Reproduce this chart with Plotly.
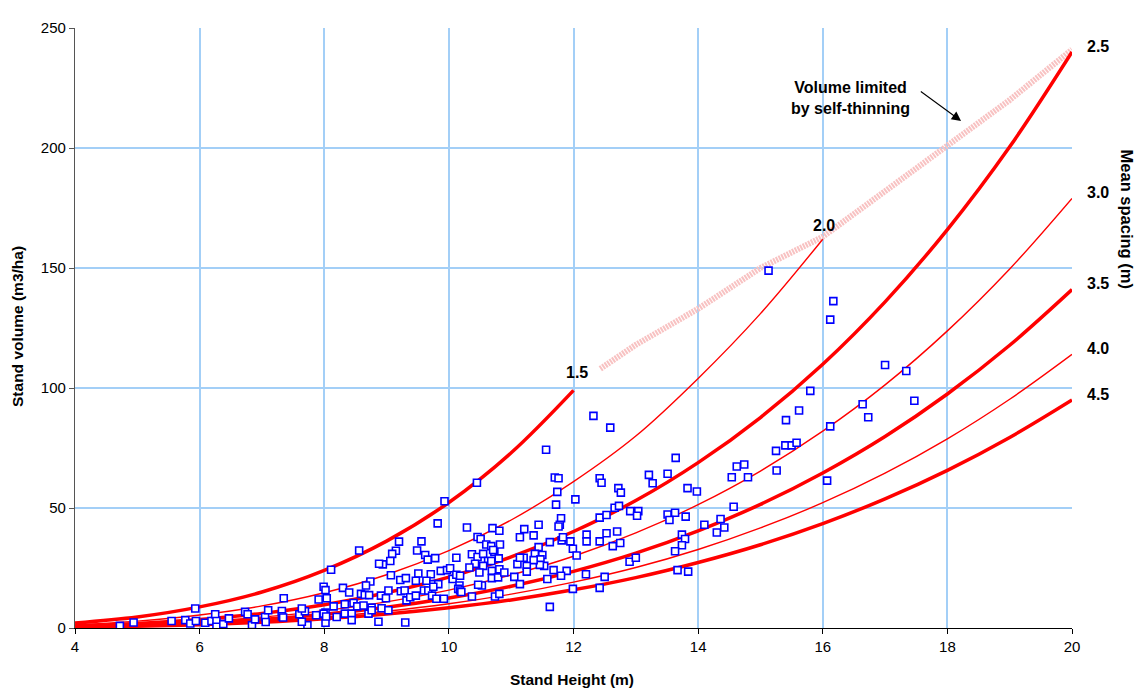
import plotly.graph_objects as go

# ---------------- data ----------------
H = [4, 5, 6, 7, 8, 9, 10, 11, 12, 13, 14, 15, 16, 17, 18, 19, 20]

v15 = [2.1, 4.6, 8.8, 15.0, 24.0, 36.2, 52.3, 73.0, 99.0]
v20 = [1.3, 2.85, 5.4, 9.2, 14.7, 22.2, 32.2, 45.0, 61.0, 80.0, 104.0, 131.0, 162.0]
v25 = [0.86, 1.88, 3.55, 6.09, 9.72, 14.7, 21.2, 29.6, 40.2, 53.1, 68.9, 87.7, 109.9, 135.9, 166.0, 200.5, 240.0]
v30 = [0.64, 1.40, 2.65, 4.54, 7.25, 10.9, 15.8, 22.1, 29.9, 39.6, 51.4, 65.4, 82.0, 101.3, 123.8, 149.6, 179.0]
v35 = [0.50, 1.10, 2.08, 3.58, 5.71, 8.62, 12.5, 17.4, 23.6, 31.2, 40.5, 51.5, 64.6, 79.8, 97.5, 117.8, 141.0]
v40 = [0.41, 0.89, 1.68, 2.89, 4.61, 6.97, 10.1, 14.1, 19.1, 25.2, 32.7, 41.7, 52.2, 64.5, 78.8, 95.3, 114.0]
v45 = [0.34, 0.74, 1.40, 2.41, 3.85, 5.81, 8.40, 11.7, 15.9, 21.0, 27.3, 34.7, 43.5, 53.8, 65.7, 79.4, 95.0]

thin_x = [12.43, 13, 14, 15, 16, 17, 18, 19, 20]
thin_y = [108, 118, 133, 150, 163, 182, 201, 220, 241]

obs = [
    (4.72, 0.9), (4.94, 2.3), (5.55, 2.9), (5.77, 3.3), (5.85, 1.9), (5.93, 8.1), (5.94, 2.9),
    (6.09, 2.2), (6.19, 2.9), (6.25, 5.7), (6.27, 2.9), (6.27, 0.5), (6.38, 1.6), (6.47, 4.0),
    (6.73, 6.7), (6.77, 5.7), (6.84, 1.2), (6.89, 3.6), (7.05, 4.6), (7.06, 2.5), (7.10, 7.4),
    (7.32, 7.1), (7.32, 4.9), (7.35, 12.4), (7.34, 4.4), (7.60, 5.7), (7.69, 7.0), (8.02, 2.2),
    (8.02, 6.4),
    (9.93, 52.8), (9.82, 43.6), (8.56, 32.3), (8.11, 24.3), (9.20, 36.0), (9.56, 36.1), (9.15, 32.2),
    (9.09, 30.9), (9.49, 32.3), (9.62, 30.4), (9.66, 28.5), (9.78, 29.1), (9.06, 27.9), (8.94, 26.5),
    (8.88, 26.8), (10.12, 29.3), (9.07, 22.0), (9.51, 22.7), (9.71, 22.4), (9.87, 23.8), (9.97, 24.1),
    (10.02, 24.9), (10.06, 20.4), (10.12, 22.2), (8.74, 19.4), (8.67, 17.7), (9.22, 20.0), (9.31, 20.8),
    (9.47, 19.7), (9.64, 19.7), (9.75, 18.3), (9.83, 18.3), (8.30, 16.7), (8.40, 14.8), (7.99, 17.2),
    (8.02, 15.8), (8.04, 12.4), (7.91, 11.9), (8.59, 14.2), (8.65, 13.8), (8.72, 13.7), (8.91, 13.5),
    (8.99, 12.4), (9.03, 15.6), (9.23, 15.3), (9.29, 15.6), (9.32, 11.5), (9.38, 12.8), (9.47, 13.5),
    (9.60, 15.6), (9.67, 15.6), (9.73, 13.5), (9.75, 17.2), (9.80, 12.2), (9.92, 12.2), (8.33, 9.9),
    (8.47, 10.4), (8.53, 9.0), (8.63, 9.4), (8.76, 8.5), (8.92, 8.2), (9.03, 7.4), (8.15, 9.0),
    (7.64, 8.1), (7.87, 5.3), (7.99, 6.0), (8.03, 4.8), (8.20, 4.6), (8.33, 6.0), (8.44, 6.0),
    (8.44, 3.3), (8.71, 6.0), (8.76, 7.4), (8.87, 2.6), (9.30, 2.3), (7.73, 1.2), (7.64, 2.6),
    (10.45, 60.5), (11.70, 62.7), (11.76, 62.4), (11.74, 56.7), (11.72, 51.4), (12.03, 53.6),
    (11.80, 45.7), (11.78, 43.0), (11.76, 42.3), (11.81, 36.5), (11.83, 37.8), (11.95, 36.1),
    (11.99, 33.0), (12.05, 30.2), (12.21, 38.9), (12.21, 36.1), (12.20, 22.4), (11.99, 16.3),
    (11.62, 8.8), (11.89, 23.8), (11.80, 21.8), (11.68, 24.1), (11.58, 20.4), (11.62, 35.8),
    (11.44, 43.0), (11.21, 41.2), (11.14, 37.8), (11.36, 38.6), (11.44, 33.7), (11.38, 30.9),
    (11.50, 30.4), (11.47, 28.6), (11.53, 25.9), (11.46, 26.3), (11.36, 28.3), (11.25, 25.9),
    (11.20, 29.3), (11.10, 26.6), (11.14, 29.3), (11.05, 21.3), (11.14, 18.3), (11.25, 23.5),
    (10.70, 41.6), (10.81, 40.5), (10.29, 41.9), (10.46, 37.9), (10.51, 37.1), (10.60, 34.8),
    (10.68, 34.1), (10.73, 31.7), (10.82, 34.8), (10.71, 32.5), (10.37, 30.7), (10.46, 29.6),
    (10.55, 30.9), (10.80, 29.0), (10.63, 27.9), (10.68, 27.9), (10.42, 26.8), (10.33, 25.2),
    (10.55, 25.9), (10.69, 23.8), (10.81, 24.5), (10.69, 20.8), (10.79, 21.1), (10.89, 23.1),
    (10.49, 23.1), (10.53, 17.7), (10.47, 18.0), (10.18, 21.8), (10.17, 17.7), (10.15, 16.3),
    (10.18, 15.6), (10.20, 15.0), (10.37, 13.1), (10.74, 13.1), (10.81, 14.2), (11.56, 74.3),
    (12.32, 88.4), (12.59, 83.5), (13.64, 70.9), (13.21, 63.8), (13.51, 64.3), (13.27, 60.3),
    (12.42, 62.4), (12.45, 60.5), (12.72, 58.3), (12.76, 56.4), (12.66, 50.1), (12.73, 50.9),
    (12.91, 48.7), (13.04, 48.7), (13.02, 46.8), (12.42, 46.0), (12.53, 47.1), (13.51, 47.3),
    (13.63, 48.0), (13.54, 45.0), (13.80, 46.4), (13.83, 58.3), (13.98, 56.9), (14.54, 62.8),
    (14.62, 67.3), (14.74, 68.1), (14.80, 62.8), (14.57, 50.5), (14.36, 45.4), (14.42, 41.9),
    (14.30, 39.8), (14.10, 43.0), (13.74, 38.9), (13.79, 37.1), (13.74, 34.5), (13.63, 32.0),
    (13.67, 24.1), (13.84, 23.5), (12.53, 39.5), (12.70, 40.2), (12.42, 36.1), (12.63, 34.1),
    (12.75, 35.4), (12.90, 27.6), (13.00, 29.3), (12.50, 21.3), (12.42, 16.7),
    (15.80, 98.8), (15.62, 90.6), (15.41, 86.6), (16.12, 84.0), (15.25, 73.8), (15.40, 76.1),
    (15.50, 76.1), (15.58, 77.2), (15.26, 65.6), (16.07, 61.4),
    (15.13, 148.9), (16.17, 136.2), (16.12, 128.5), (17.00, 109.6), (17.34, 107.1), (17.47, 94.7),
    (16.64, 93.2), (16.73, 87.8),
]
obs_x = [p[0] for p in obs]
obs_y = [p[1] for p in obs]

spacing_labels = ["2.5", "3.0", "3.5", "4.0", "4.5"]

# ---------------- figure ----------------
FONT = "Arial, 'Liberation Sans', Helvetica, sans-serif"
RED = "#ff0000"
fig = go.Figure()

fig.add_trace(go.Scatter(x=thin_x, y=thin_y, mode="lines",
                         line=dict(color="#f8c2c2", width=6, dash="2px,1px"), hoverinfo="skip"))

curves = [
    (v15, 3.5), (v20, 1.4), (v25, 3.5), (v30, 1.4), (v35, 3.5), (v40, 1.4), (v45, 3.5),
]
for vals, w in curves:
    fig.add_trace(go.Scatter(x=H[:len(vals)], y=vals, mode="lines",
                             line=dict(color=RED, width=w, shape="spline"),
                             cliponaxis=False, hoverinfo="skip"))

fig.add_trace(go.Scatter(x=obs_x, y=obs_y, mode="markers",
                         marker=dict(symbol="square", size=7, color="white",
                                     line=dict(color="#0000ff", width=1.6))))

ann = []
ends = [v25[-1], v30[-1], v35[-1], v40[-1], v45[-1]]
for lab, yv in zip(spacing_labels, ends):
    ann.append(dict(x=20, y=yv, xref="x", yref="y", text="<b>" + lab + "</b>",
                    showarrow=False, xanchor="left", yanchor="middle", xshift=13, yshift=6,
                    font=dict(family=FONT, size=16, color="black")))
ann.append(dict(x=12, y=v15[-1], xref="x", yref="y", text="<b>1.5</b>", showarrow=False,
                xanchor="center", yanchor="bottom", xshift=3, yshift=7,
                font=dict(family=FONT, size=16, color="black")))
ann.append(dict(x=16, y=v20[-1], xref="x", yref="y", text="<b>2.0</b>", showarrow=False,
                xanchor="center", yanchor="bottom", xshift=1, yshift=3,
                font=dict(family=FONT, size=16, color="black")))
ann.append(dict(x=16.44, y=221, xref="x", yref="y",
                text="<b>Volume limited<br>by self-thinning</b>", showarrow=False,
                xanchor="center", yanchor="middle",
                align="center", font=dict(family=FONT, size=16, color="black")))
ann.append(dict(x=18.22, y=211.3, ax=17.55, ay=224, xref="x", yref="y", axref="x", ayref="y",
                text="", showarrow=True, arrowhead=2, arrowsize=1.7, arrowwidth=1.1,
                arrowcolor="black"))
ann.append(dict(x=1.055, y=0.681, xref="paper", yref="paper", text="<b>Mean spacing (m)</b>",
                textangle=90, showarrow=False, xanchor="center", yanchor="middle",
                font=dict(family=FONT, size=16.5, color="black")))
ann.append(dict(x=-0.057, y=0.502, xref="paper", yref="paper", text="<b>Stand volume (m3/ha)</b>",
                textangle=-90, showarrow=False, xanchor="center", yanchor="middle",
                font=dict(family=FONT, size=15.5, color="black")))
ann.append(dict(x=0.4985, y=-0.085, xref="paper", yref="paper", text="<b>Stand Height (m)</b>",
                showarrow=False, xanchor="center", yanchor="middle",
                font=dict(family=FONT, size=15.5, color="black")))

GRID = "#a3cff7"
fig.update_layout(
    width=1136, height=681,
    margin=dict(l=67, r=72, t=11, b=61),
    paper_bgcolor="white", plot_bgcolor="white",
    showlegend=False,
    annotations=ann,
    font=dict(family=FONT, size=15, color="black"),
    xaxis=dict(range=[4, 20], dtick=2, tick0=4, showgrid=True, gridcolor=GRID, gridwidth=1.5,
               zeroline=False, showline=True, linecolor="black", linewidth=1.2,
               ticks="outside", ticklen=5, tickcolor="black",
               tickfont=dict(family=FONT, size=15, color="black")),
    yaxis=dict(range=[0, 250], dtick=50, showgrid=True, gridcolor=GRID, gridwidth=1.5,
               zeroline=False, showline=True, linecolor="#555555", linewidth=1.2,
               ticks="outside", ticklen=5, tickcolor="#555555",
               tickfont=dict(family=FONT, size=15, color="black")),
)

fig.write_html("out.html")
